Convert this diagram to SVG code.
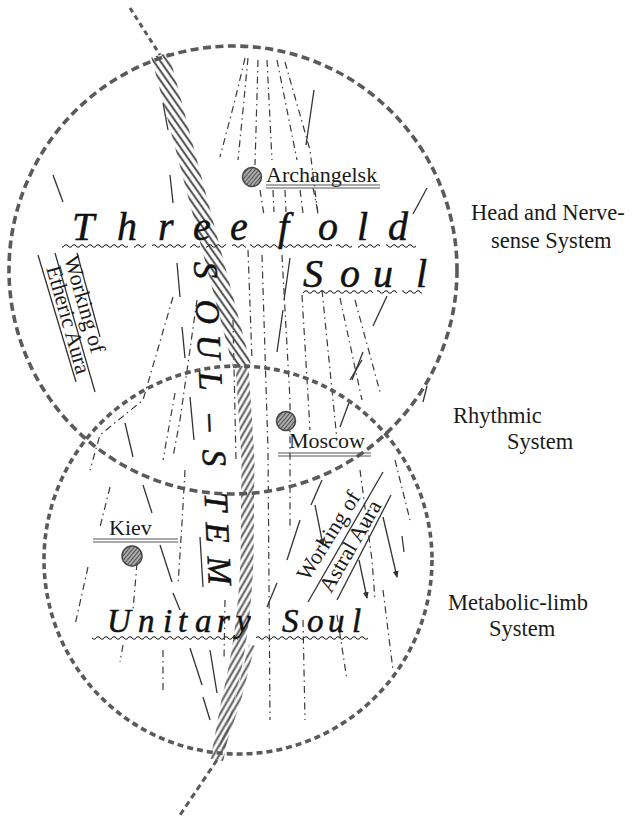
<svg xmlns="http://www.w3.org/2000/svg" width="634" height="825" viewBox="0 0 634 825">
<defs>
<style>
.circ{fill:none;stroke:#5a5a5a;stroke-width:3.6;stroke-dasharray:8 4.5}
.circ2{fill:none;stroke:#5a5a5a;stroke-width:3.6;stroke-dasharray:6 4}
.dd{fill:none;stroke:#3a3a3a;stroke-width:1.2;stroke-dasharray:7 4 1.5 4}
.sl{fill:none;stroke:#333;stroke-width:1.3}
.ar{fill:none;stroke:#333;stroke-width:1.3;marker-end:url(#arr)}
.ul{fill:none;stroke:#555;stroke-width:1.2}
.lab{font-family:"Liberation Serif","DejaVu Serif",serif;font-size:22px;fill:#1a1a1a}
.sys{font-size:22.5px}
.big{font-family:"Liberation Serif","DejaVu Serif",serif;font-style:italic;fill:#111;stroke:#111;stroke-width:0.5}
.mk{fill:url(#mh);stroke:#444;stroke-width:1.5}
</style>
<pattern id="hatchA" patternUnits="userSpaceOnUse" width="5.5" height="5.5" patternTransform="rotate(-35)">
<line x1="2.75" y1="0" x2="2.75" y2="5.5" stroke="#555" stroke-width="2.1"/>
</pattern>
<pattern id="hatchB" patternUnits="userSpaceOnUse" width="5" height="5" patternTransform="rotate(30)">
<line x1="2.5" y1="0" x2="2.5" y2="5" stroke="#555" stroke-width="2"/>
</pattern>
<pattern id="mh" patternUnits="userSpaceOnUse" width="3" height="3" patternTransform="rotate(40)">
<rect width="3" height="3" fill="#ababab"/>
<line x1="1.5" y1="0" x2="1.5" y2="3" stroke="#505050" stroke-width="1"/>
</pattern>
<pattern id="wave" patternUnits="userSpaceOnUse" width="8" height="6">
<path d="M0,3 Q2,0.6 4,3 T8,3" fill="none" stroke="#222" stroke-width="1.1"/>
</pattern>
<marker id="arr" markerWidth="8" markerHeight="8" refX="6" refY="4" orient="auto" markerUnits="userSpaceOnUse">
<path d="M0,1 L7,4 L0,7 Z" fill="#333"/>
</marker>
</defs>
<rect width="634" height="825" fill="#fff"/>

<g id="fine-lines">
<path class="dd" d="M245,58 L235,100 L220,157"/>
<path class="dd" d="M248,58 L243,110 L238,160"/>
<path class="dd" d="M258,60 L255,165"/>
<path class="dd" d="M267,60 L272,160"/>
<path class="dd" d="M277,60 L297,160"/>
<path class="dd" d="M285,62 L310,150 L318,215"/>
<path class="dd" d="M260,190 L264,215"/>
<path class="dd" d="M273,190 L274,212"/>
<path class="dd" d="M285,190 L286,212"/>
<path class="dd" d="M300,190 L303,213"/>
<path class="dd" d="M313,188 L318,212"/>
<path class="dd" d="M262,255 L268,450 L270,720"/>
<path class="dd" d="M282,255 L290,400 L290,530"/>
<path class="dd" d="M302,295 L310,430"/>
<path class="dd" d="M322,290 L337,440"/>
<path class="dd" d="M340,298 L362,400"/>
<path class="dd" d="M355,300 L380,392"/>
<path class="dd" d="M248,250 L252,360"/>
<path class="dd" d="M303,620 L305,720"/>
<path class="dd" d="M337,615 L347,680"/>
<path class="dd" d="M383,590 L393,670"/>
<path class="dd" d="M360,470 L372,560 L375,600"/>
<path class="dd" d="M395,460 L410,520"/>
<path class="dd" d="M173,297 L143,400 L100,435 L90,470"/>
<path class="dd" d="M197,300 L180,420 L173,457"/>
<path class="dd" d="M175,393 L163,460"/>
<path class="dd" d="M185,470 L182,523 L178,585"/>
<path class="dd" d="M137,563 L133,610"/>
<path class="dd" d="M110,487 L100,527"/>
<path class="dd" d="M88,567 L75,625"/>
<path class="dd" d="M123,645 L120,662"/>
<path class="dd" d="M163,650 L163,690"/>
<path class="dd" d="M233,320 L236,460"/>
<path class="dd" d="M225,600 L224,660"/>
<path class="sl" d="M163,103 L168,130"/>
<path class="sl" d="M53,175 L63,202"/>
<path class="sl" d="M170,175 L173,203"/>
<path class="sl" d="M314,90 L306,145"/>
<path class="sl" d="M427,188 L413,214"/>
<path class="sl" d="M387,296 L373,326"/>
<path class="sl" d="M363,352 L352,380"/>
<path class="sl" d="M427,386 L423,402"/>
<path class="sl" d="M177,263 L180,297"/>
<path class="sl" d="M182,327 L185,358"/>
<path class="sl" d="M190,397 L194,440"/>
<path class="sl" d="M290,258 L284,300"/>
<path class="sl" d="M283,310 L277,352"/>
<path class="sl" d="M125,423 L133,457"/>
<path class="sl" d="M143,485 L152,513"/>
<path class="sl" d="M160,545 L172,582"/>
<path class="sl" d="M200,537 L203,587"/>
<path class="sl" d="M173,593 L180,610"/>
<path class="sl" d="M190,648 L202,685"/>
<path class="sl" d="M210,650 L217,693"/>
<path class="sl" d="M203,697 L210,720"/>
<path class="sl" d="M287,560 L300,520"/>
<path class="sl" d="M267,607 L277,583"/>
<path class="sl" d="M311,505 L322,480"/>
<path class="sl" d="M340,427 L350,400"/>
<path class="sl" d="M350,380 L362,360"/>
<path class="sl" d="M402,536 L404,552"/>
<path class="ar" d="M315,505 L323,545"/>
<path class="ar" d="M383,517 L397,577"/>
<path class="ar" d="M359,560 L367,598"/>
</g>

<g id="circles">
<circle class="circ" cx="233" cy="270" r="224"/>
<circle class="circ2" cx="238" cy="560" r="194"/>
</g>

<g id="soul-stem">
<path d="M130,8 L160,55" fill="none" stroke="#5a5a5a" stroke-width="3" stroke-dasharray="5 4"/>
<path d="M160,55 L242,366" fill="none" stroke="url(#hatchA)" stroke-width="18"/>
<path d="M242,366 L248,460 L247,560 C245,610 238,660 228,700 L217,760" fill="none" stroke="url(#hatchB)" stroke-width="13"/>
<path d="M252,645 L238,700 L222,748" fill="none" stroke="url(#hatchB)" stroke-width="6"/>
<path d="M217,760 L178,818" fill="none" stroke="#5a5a5a" stroke-width="3" stroke-dasharray="6 4"/>
<text class="big" font-size="34" transform="rotate(87.4 194 262)" y="262" x="194 232 267 304 347 382 425 455 489">SOUL–STEM</text>
</g>

<g id="archangelsk">
<circle class="mk" cx="252" cy="177" r="9.5"/>
<text class="lab" x="266" y="182">Archangelsk</text>
<line class="ul" x1="266" y1="185" x2="380" y2="185"/>
<line class="ul" x1="266" y1="188" x2="380" y2="188"/>
</g>

<g id="moscow">
<circle class="mk" cx="286" cy="421" r="9.5"/>
<text class="lab" x="289" y="448">Moscow</text>
<line class="ul" x1="278" y1="453" x2="371" y2="453"/>
<line class="ul" x1="278" y1="456" x2="371" y2="456"/>
</g>

<g id="kiev">
<circle class="mk" cx="132" cy="556" r="10"/>
<text class="lab" x="109" y="535">Kiev</text>
<line class="ul" x1="93" y1="539" x2="178" y2="539"/>
<line class="ul" x1="93" y1="542" x2="178" y2="542"/>
</g>

<g id="threefold-soul">
<text class="big" font-size="40" y="240" x="72 117 158 193 230 278 318 357 388">Threefold</text>
<text class="big" font-size="40" y="287" x="303 340 373 416">Soul</text>
<g transform="translate(0,243)">
<rect x="62" y="0" width="66" height="6" fill="url(#wave)"/>
<rect x="134" y="0" width="12" height="6" fill="url(#wave)"/>
<rect x="152" y="0" width="34" height="6" fill="url(#wave)"/>
<rect x="190" y="0" width="10" height="6" fill="url(#wave)"/>
<rect x="206" y="0" width="20" height="6" fill="url(#wave)"/>
<rect x="232" y="0" width="14" height="6" fill="url(#wave)"/>
<rect x="250" y="0" width="82" height="6" fill="url(#wave)"/>
<rect x="336" y="0" width="16" height="6" fill="url(#wave)"/>
<rect x="358" y="0" width="22" height="6" fill="url(#wave)"/>
<rect x="386" y="0" width="30" height="6" fill="url(#wave)"/>
</g>
<g transform="translate(0,289)">
<rect x="303" y="0" width="70" height="6" fill="url(#wave)"/>
<rect x="377" y="0" width="20" height="6" fill="url(#wave)"/>
<rect x="402" y="0" width="20" height="6" fill="url(#wave)"/>
</g>
</g>

<g id="unitary-soul">
<text class="big" font-size="33" y="632" x="107 138 163 178 195 217 236 282 307 328 352">UnitarySoul</text>
<g transform="translate(0,635)">
<rect x="92" y="0" width="146" height="6" fill="url(#wave)"/>
<rect x="256" y="0" width="112" height="6" fill="url(#wave)"/>
</g>
</g>

<g id="etheric-aura">
<line class="sl" x1="38" y1="255" x2="76" y2="382"/>
<line class="sl" x1="55" y1="253" x2="95" y2="392"/>
<line class="sl" x1="77" y1="253" x2="100" y2="337"/>
<text class="lab" font-size="20" transform="rotate(74 64 258)" x="64" y="258">Working  of</text>
<text class="lab" font-size="20" transform="rotate(74 46 268)" x="46" y="268">Etheric  Aura</text>
</g>

<g id="astral-aura">
<line class="sl" x1="308" y1="602" x2="383" y2="472"/>
<line class="sl" x1="337" y1="600" x2="391" y2="495"/>
<text class="lab" font-size="20" transform="rotate(-58 308 582)" x="308" y="582">Working  of</text>
<text class="lab" font-size="20" transform="rotate(-60 331 594)" x="331" y="594">Astral Aura</text>
</g>

<g id="system-labels">
<text class="lab sys" x="471" y="220">Head and Nerve-</text>
<text class="lab sys" x="491" y="248">sense System</text>
<text class="lab sys" x="453" y="423">Rhythmic</text>
<text class="lab sys" x="507" y="449">System</text>
<text class="lab sys" x="448" y="610">Metabolic-limb</text>
<text class="lab sys" x="489" y="636">System</text>
</g>
</svg>
